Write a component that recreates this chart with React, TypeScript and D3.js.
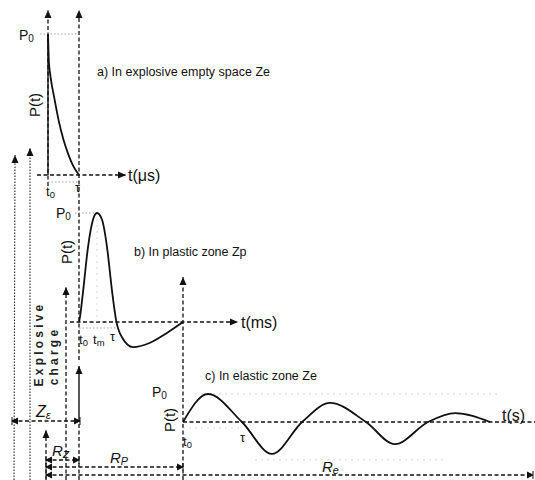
import React, { useEffect, useRef } from "react";
import * as d3 from "d3";

// a) explosive empty space, time in µs (t0 = 0, tau = 1), pressure / P0
const aTime = [0, 0.03, 0.08, 0.2, 0.35, 0.5, 0.65, 0.8, 1];
const aPressure = [1, 0.8, 0.7, 0.55, 0.38, 0.25, 0.15, 0.07, 0];

// b) plastic zone, time in ms
const bTime = [0, 0.1, 0.38, 0.87, 1.35, 1.73, 2.21, 2.69, 3.17, 3.56, 4.13, 5.19, 6.83, 8.46, 10];
const bPressure = [0, 0.05, 0.27, 0.69, 0.94, 1, 0.94, 0.69, 0.29, 0.02, -0.14, -0.23, -0.19, -0.1, 0];

// c) elastic zone, time in s
const cTime = [0, 0.81, 1.92, 2.9, 3.88, 4.79, 5.96, 6.9, 7.98, 8.86, 10];
const cPressure = [0, 1, 0, -1.14, 0, 0.68, 0, -0.79, 0, 0.32, 0];

const panelTitles = [
  "a) In explosive empty space Ze",
  "b) In plastic zone Zp",
  "c) In elastic zone Ze",
];
const timeUnits = ["t(μs)", "t(ms)", "t(s)"];
const chargeLabel = ["Explosive", "charge"];

const FONT = "Liberation Sans, Arial, sans-serif";

export default function App() {
  const svgRef = useRef<SVGSVGElement | null>(null);

  useEffect(() => {
    const width = 535;
    const height = 480;
    const svg = d3.select(svgRef.current).attr("width", width).attr("height", height);
    svg.selectAll("*").remove();
    svg.append("rect").attr("width", width).attr("height", height).attr("fill", "#fff");

    const defs = svg.append("defs");
    defs
      .append("marker")
      .attr("id", "arr")
      .attr("markerUnits", "userSpaceOnUse")
      .attr("markerWidth", 9)
      .attr("markerHeight", 8)
      .attr("refX", 8)
      .attr("refY", 4)
      .attr("orient", "auto")
      .append("path")
      .attr("d", "M0,0.5 L8,4 L0,7.5 Z")
      .attr("fill", "#111");
    defs
      .append("marker")
      .attr("id", "dim")
      .attr("markerUnits", "userSpaceOnUse")
      .attr("markerWidth", 7)
      .attr("markerHeight", 8)
      .attr("refX", 6)
      .attr("refY", 4)
      .attr("orient", "auto-start-reverse")
      .append("path")
      .attr("d", "M0,1 L6,4 L0,7 Z M6,0 L6,8")
      .attr("fill", "#111")
      .attr("stroke", "#111")
      .attr("stroke-width", 1);

    const styles: Record<string, [string, string, number]> = {
      dash: ["#111", "4,2.5", 1.3],
      dot: ["#222", "1.5,1.5", 1.1],
      grey: ["#999", "1.5,2", 0.9],
      faint: ["#ccc", "2,4", 0.8],
      solid: ["#111", "", 1.4],
    };

    const seg = (
      x1: number, y1: number, x2: number, y2: number,
      style: string, end?: string, start?: string
    ) => {
      const [c, d, w] = styles[style];
      const l = svg
        .append("line")
        .attr("x1", x1).attr("y1", y1).attr("x2", x2).attr("y2", y2)
        .attr("stroke", c)
        .attr("stroke-width", w);
      if (d) l.attr("stroke-dasharray", d);
      if (end) l.attr("marker-end", `url(#${end})`);
      if (start) l.attr("marker-start", `url(#${start})`);
    };

    const label = (
      x: number, y: number, main: string, sub = "", size = 14,
      opts: { rotate?: boolean; italic?: boolean; anchor?: string; subScale?: number } = {}
    ) => {
      const t = svg
        .append("text")
        .attr("font-family", FONT)
        .attr("font-size", size)
        .attr("fill", "#111")
        .attr("text-anchor", opts.anchor || "start");
      if (opts.italic) t.attr("font-style", "italic");
      if (opts.rotate) t.attr("transform", `translate(${x},${y}) rotate(-90)`);
      else t.attr("x", x).attr("y", y);
      t.append("tspan").text(main);
      if (sub)
        t.append("tspan")
          .attr("font-size", size * (opts.subScale || 0.72))
          .attr("dy", size * 0.12)
          .text(sub);
      return t;
    };

    // scales for the three panels
    const xA = d3.scaleLinear().domain([0, 1]).range([48, 79]);
    const yA = d3.scaleLinear().domain([0, 1]).range([175, 34]);
    const xB = d3.scaleLinear().domain([0, 10]).range([79, 183]);
    const yB = d3.scaleLinear().domain([0, 1]).range([322, 213]);
    const xC = d3.scaleLinear().domain([0, 10]).range([183, 490]);
    const yC = d3.scaleLinear().domain([0, 1]).range([422, 394]);

    // long verticals on the left
    seg(14, 480, 15, 155, "dot", "arr");
    seg(30, 480, 30, 148, "dot", "arr");
    seg(46, 480, 46, 430, "dash", "arr");
    seg(66, 480, 66, 287, "dash", "arr");
    seg(xB(0), 480, xB(0), 420, "dash");
    seg(xB(0), 420, xB(0), 366, "solid", "arr");
    seg(xB(0), 360, xB(0), 10, "dash", "arr");
    seg(xC(0), 480, xC(0), 277, "dash", "arr");

    // panel a
    seg(xA(0), 186, xA(0), 10, "dash", "arr");
    seg(xA(0), yA(0), xA(0), yA(1), "solid");
    seg(37, yA(0), 126, yA(0), "dash", "arr");
    seg(40, yA(1), xA(1), yA(1), "grey");
    seg(xA(0), 182, xA(1), 182, "grey");

    // panel b
    seg(70, yB(0), 238, yB(0), "dash", "arr");
    seg(75, yB(1), xB(1.73), yB(1), "grey");
    seg(xB(1.73), yB(1), xB(1.73), yB(0), "faint");
    seg(xB(0), 328, xB(3.56), 328, "grey");

    // panel c
    seg(xC(0), yC(0), 535, yC(0), "dash");
    seg(195, yC(1), 500, yC(1), "faint");
    seg(255, yC(-1.35), 445, yC(-1.35), "faint");
    seg(xC(0), 428, xC(1.92), 428, "faint");

    // curves
    const drawCurve = (
      ts: number[], ps: number[],
      x: d3.ScaleLinear<number, number>, y: d3.ScaleLinear<number, number>
    ) => {
      const line = d3
        .line<number>()
        .x((_, i) => x(ts[i]))
        .y((p) => y(p))
        .curve(d3.curveMonotoneX);
      svg
        .append("path")
        .attr("d", line(ps))
        .attr("fill", "none")
        .attr("stroke", "#111")
        .attr("stroke-width", 1.8);
    };
    drawCurve(aTime, aPressure, xA, yA);
    drawCurve(bTime, bPressure, xB, yB);
    drawCurve(cTime, cPressure, xC, yC);

    // dimension lines
    seg(12, 421, 80, 421, "dash", "dim", "dim");
    seg(46, 460, 79, 460, "dash", "dim", "dim");
    seg(46, 467, xC(0), 467, "dash", "dim", "dim");
    seg(46, 475, 533, 475, "dash", "dim", "dim");

    // panel a labels
    label(19, 40, "P", "0", 14);
    label(40, 105, "P(t)", "", 15, { rotate: true, anchor: "middle" });
    label(97, 76, panelTitles[0], "", 12.5);
    label(128, 181, timeUnits[0], "", 16);
    label(46, 196, "t", "0", 13);
    label(75, 192, "τ", "", 13);

    // panel b labels
    label(56, 218, "P", "0", 14);
    label(72, 252, "P(t)", "", 15, { rotate: true, anchor: "middle" });
    label(134, 256, panelTitles[1], "", 12.5);
    label(241, 328, timeUnits[1], "", 16);
    label(79, 344, "t", "0", 13);
    label(93, 344, "t", "m", 13);
    label(110, 341, "τ", "", 13);

    // panel c labels
    label(205, 380, panelTitles[2], "", 12.5);
    label(152, 397, "P", "0", 14);
    label(175, 420, "P(t)", "", 15, { rotate: true, anchor: "middle" });
    label(502, 421, timeUnits[2], "", 16);
    label(183, 446, "t", "0", 13);
    label(240, 442, "τ", "", 13);

    // explosive charge
    [0, 1].forEach((i) => {
      svg
        .append("text")
        .attr("transform", `translate(${43 + i * 15},${i ? 356 : 344}) rotate(-90)`)
        .attr("font-family", FONT)
        .attr("font-size", 12)
        .attr("font-weight", "bold")
        .attr("letter-spacing", 3.2)
        .attr("text-anchor", "middle")
        .attr("fill", "#222")
        .text(chargeLabel[i]);
    });

    // dimension labels
    label(36, 417, "Z", "ε", 16, { italic: true });
    label(52, 456, "R", "z", 15, { italic: true, subScale: 0.9 });
    label(110, 463, "R", "P", 15, { italic: true });
    label(322, 472, "R", "e", 15, { italic: true });
  }, []);

  return (
    <div style={{ position: "absolute", left: 0, top: 0 }}>
      <svg ref={svgRef}></svg>
    </div>
  );
}
